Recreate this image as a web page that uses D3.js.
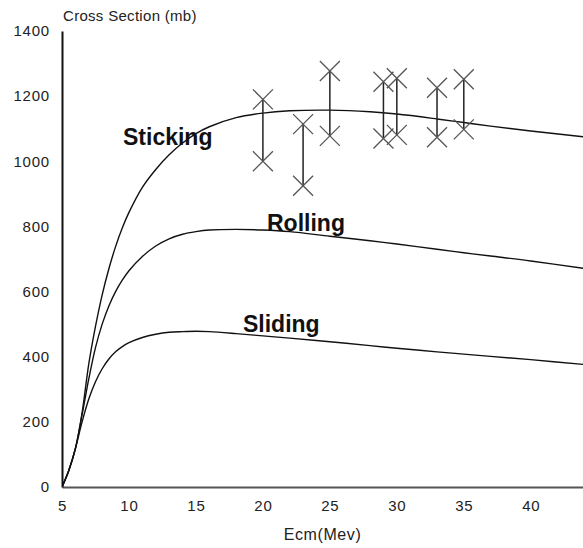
<!DOCTYPE html>
<html>
<head>
<meta charset="utf-8">
<script src="https://cdn.jsdelivr.net/npm/d3@7"></script>
<style>
  body { margin: 0; background: #fff; }
  svg { display: block; font-family: "Liberation Sans", Arial, sans-serif; }
</style>
</head>
<body>
<div id="chart"></div>
<script>
// energy grid shared by the three model curves (Ecm, MeV)
const energy   = [5, 5.5, 6, 6.5, 7, 7.5, 8, 8.5, 9, 9.5, 10, 11, 12, 13, 14, 15, 16, 18, 20, 22, 25, 28, 30, 33, 35, 37, 40, 44];
const sticking = [0, 50, 118, 228, 378, 493, 590, 670, 738, 795, 843, 920, 975, 1020, 1056, 1085, 1106, 1134, 1148, 1155, 1157, 1152, 1145, 1130, 1119, 1108, 1093, 1075];
const rolling  = [0, 50, 118, 222, 332, 428, 500, 556, 600, 635, 664, 708, 740, 762, 776, 784, 789, 791, 789, 784, 770, 756, 746, 730, 719, 709, 694, 671];
const sliding  = [0, 50, 118, 200, 270, 323, 363, 393, 415, 431, 443, 459, 469, 475, 477, 478, 477, 471, 464, 457, 446, 434, 426, 415, 408, 401, 391, 376];

// measured points, drawn as ranges
const errE    = [20, 23, 25, 29, 30, 33, 35];
const errLow  = [1000, 925, 1078, 1070, 1081, 1074, 1098];
const errHigh = [1190, 1114, 1277, 1244, 1255, 1226, 1252];

const xTicks = [5, 10, 15, 20, 25, 30, 35, 40];
const yTicks = [0, 200, 400, 600, 800, 1000, 1200, 1400];

const curves = [
  { name: "Sticking", values: sticking, at: [123, 145] },
  { name: "Rolling",  values: rolling,  at: [267, 231] },
  { name: "Sliding",  values: sliding,  at: [243, 332] }
];

const width = 583, height = 548;
const margin = { top: 31, right: 0, bottom: 61, left: 62 };

const x = d3.scaleLinear().domain([5, 43.9]).range([margin.left, width - margin.right]);
const y = d3.scaleLinear().domain([0, 1400]).range([height - margin.bottom, margin.top]);

const svg = d3.select("#chart").append("svg")
  .attr("width", width)
  .attr("height", height);

svg.append("clipPath").attr("id", "plot")
  .append("rect")
  .attr("x", margin.left).attr("y", 0)
  .attr("width", width - margin.left).attr("height", height - margin.bottom);

// axes
const xAxis = svg.append("g")
  .attr("transform", `translate(0,${y(0)})`)
  .call(d3.axisBottom(x).tickValues(xTicks).tickSize(0).tickPadding(13).tickSizeOuter(0));
xAxis.select(".domain").attr("stroke", "#555").attr("stroke-width", 2);

const yAxis = svg.append("g")
  .attr("transform", `translate(${margin.left},0)`)
  .call(d3.axisLeft(y).tickValues(yTicks).tickFormat(d3.format("d"))
    .tickSize(0).tickPadding(12).tickSizeOuter(0));
yAxis.select(".domain").attr("stroke", "#111").attr("stroke-width", 2);

svg.selectAll(".tick text")
  .attr("font-family", "Liberation Sans, Arial, sans-serif")
  .attr("font-size", 15)
  .attr("letter-spacing", 0.8)
  .attr("fill", "#222");

svg.append("text")
  .attr("x", margin.left + 1)
  .attr("y", 21)
  .attr("font-size", 15)
  .attr("letter-spacing", 0.3)
  .attr("fill", "#222")
  .text("Cross Section (mb)");

svg.append("text")
  .attr("x", (margin.left + width) / 2)
  .attr("y", 540)
  .attr("text-anchor", "middle")
  .attr("font-size", 16)
  .attr("letter-spacing", 0.6)
  .attr("fill", "#222")
  .text("Ecm(Mev)");

// model curves
const line = d3.line()
  .x((d, i) => x(energy[i]))
  .y(d => y(d))
  .curve(d3.curveCatmullRom.alpha(0.5));

const plot = svg.append("g").attr("clip-path", "url(#plot)");

plot.selectAll("path.curve")
  .data(curves)
  .join("path")
  .attr("class", "curve")
  .attr("fill", "none")
  .attr("stroke", "#111")
  .attr("stroke-width", 1.4)
  .attr("d", d => line(d.values));

// error bars with X marks at both ends
const bars = plot.selectAll("g.bar")
  .data(errE)
  .join("g")
  .attr("class", "bar");

bars.append("line")
  .attr("x1", d => x(d)).attr("x2", d => x(d))
  .attr("y1", (d, i) => y(errLow[i]))
  .attr("y2", (d, i) => y(errHigh[i]))
  .attr("stroke", "#222")
  .attr("stroke-width", 1.5);

const s = 10;
bars.each(function(d, i) {
  const g = d3.select(this);
  [errLow[i], errHigh[i]].forEach(v => {
    const cx = x(d), cy = y(v);
    g.append("path")
      .attr("d", `M${cx - s},${cy - s}L${cx + s},${cy + s}M${cx - s},${cy + s}L${cx + s},${cy - s}`)
      .attr("stroke", "#555")
      .attr("stroke-width", 1.3)
      .attr("fill", "none");
  });
});

// curve labels
svg.selectAll("text.label")
  .data(curves)
  .join("text")
  .attr("class", "label")
  .attr("x", d => d.at[0])
  .attr("y", d => d.at[1])
  .attr("font-size", 23)
  .attr("font-weight", "bold")
  .attr("fill", "#111")
  .text(d => d.name);
</script>
</body>
</html>
